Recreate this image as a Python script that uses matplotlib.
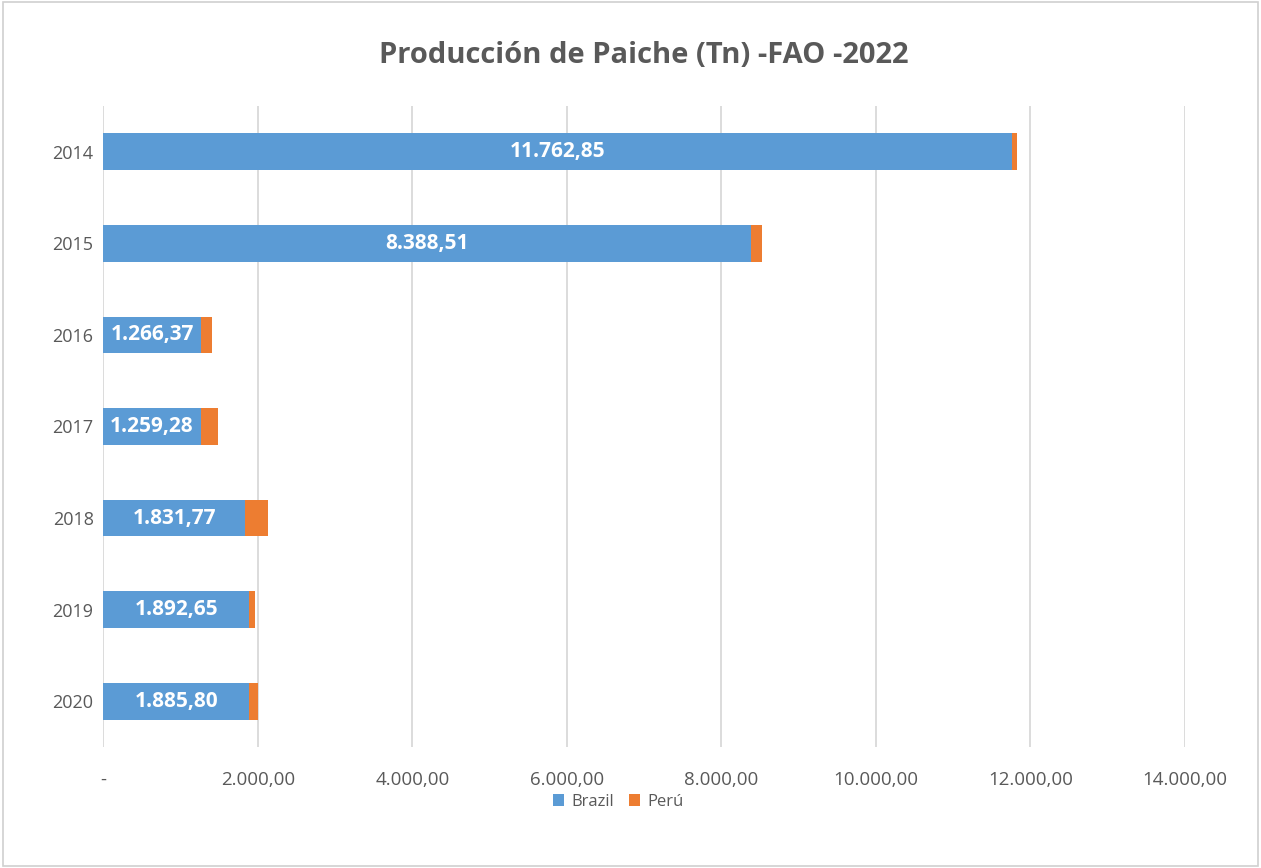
import matplotlib
matplotlib.use("Agg")
import matplotlib.pyplot as plt
from matplotlib.patches import Rectangle

years = ["2014", "2015", "2016", "2017", "2018", "2019", "2020"]
brazil = [11762.85, 8388.51, 1266.37, 1259.28, 1831.77, 1892.65, 1885.80]
peru = [60, 140, 138, 225, 298, 75, 115]
x_ticks = [0, 2000, 4000, 6000, 8000, 10000, 12000, 14000]

BLUE = "#5B9BD5"
ORANGE = "#ED7D31"
GRAY_TXT = "#595959"
GRID = "#D9D9D9"

plt.rcParams["font.family"] = ["Open Sans", "DejaVu Sans"]


def es_format(v):
    if v == 0:
        return "-"
    s = f"{v:,.2f}"
    return s.replace(",", "X").replace(".", ",").replace("X", ".")


fig = plt.figure(figsize=(12.61, 8.68), dpi=100)
ax = fig.add_axes([0.0819, 0.1394, 0.8577, 0.7386])

ypos = list(range(len(years)))
bars_b = ax.barh(ypos, brazil, height=0.4, color=BLUE, label="Brazil", zorder=3)
ax.barh(ypos, peru, left=brazil, height=0.4, color=ORANGE, label="Perú", zorder=3)

for rect, v in zip(bars_b, brazil):
    ax.text(rect.get_x() + rect.get_width() / 2, rect.get_y() + rect.get_height() / 2,
            es_format(v), ha="center", va="center", color="white",
            fontsize=15, fontweight="bold", zorder=4)

ax.set_xlim(0, 14000)
ax.set_ylim(len(years) - 0.5, -0.5)
ax.set_yticks(ypos)
ax.set_yticklabels(years)
ax.set_xticks(x_ticks)
ax.set_xticklabels([es_format(t) for t in x_ticks])
ax.tick_params(axis="both", length=0, colors=GRAY_TXT)
ax.tick_params(axis="x", pad=17, labelsize=13.5)
ax.tick_params(axis="y", pad=7, labelsize=13)

ax.grid(axis="x", color=GRID, linewidth=1.3, zorder=0)
for s in ax.spines.values():
    s.set_visible(False)

ax.set_title("Producción de Paiche (Tn) -FAO -2022", fontsize=21, fontweight="bold",
             color=GRAY_TXT, pad=31)

leg = fig.legend(loc="lower center", bbox_to_anchor=(0.49, 0.05), ncol=2, frameon=False,
                 fontsize=12, handlelength=0.7, handleheight=0.7, handletextpad=0.4,
                 columnspacing=0.9)
for t in leg.get_texts():
    t.set_color(GRAY_TXT)

fig.patches.append(Rectangle((0.002, 0.002), 0.996, 0.996, transform=fig.transFigure,
                             fill=False, edgecolor="#D0D0D0", linewidth=1.2))

fig.savefig("out.png", dpi=100)
